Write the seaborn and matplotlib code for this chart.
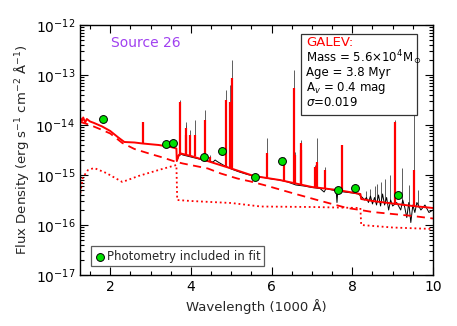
import numpy as np
import pandas as pd
import matplotlib
matplotlib.use("Agg")
import matplotlib.pyplot as plt
import matplotlib.ticker as mticker
from matplotlib.patches import Rectangle
import seaborn as sns

# values, wavelength in 1000 A, flux as log10(erg/s/cm2/A)
model_w = [1.26, 1.30, 1.33, 1.38, 1.42, 1.50, 1.60, 1.80, 2.00, 2.20, 2.35, 2.60, 2.80,
           3.20, 3.50, 3.64, 3.65, 3.70, 3.75, 4.00, 4.33, 4.80, 5.00, 5.56, 5.80, 6.20,
           6.60, 7.00, 7.63, 8.00, 8.20, 8.22, 8.50, 9.00, 9.50, 10.00]
model_f = [-13.86, -13.92, -13.85, -13.95, -13.88, -13.93, -13.96, -14.03, -14.12, -14.25,
           -14.34, -14.35, -14.37, -14.40, -14.44, -14.47, -14.72, -14.60, -14.57, -14.62,
           -14.70, -14.82, -14.87, -15.02, -15.05, -15.10, -15.17, -15.24, -15.30, -15.35,
           -15.38, -15.48, -15.52, -15.57, -15.62, -15.66]

stellar_w = [1.26, 1.50, 1.80, 2.00, 2.30, 2.60, 3.00, 3.30, 3.60, 3.80, 4.42, 4.74, 5.15,
             5.48, 5.90, 6.55, 7.13, 7.87, 8.20, 8.50, 9.00, 9.50, 10.00]
stellar_f = [-13.94, -14.00, -14.10, -14.17, -14.36, -14.48, -14.58, -14.65, -14.73, -14.77,
             -14.87, -14.97, -15.07, -15.13, -15.22, -15.37, -15.50, -15.66, -15.70, -15.74,
             -15.78, -15.82, -15.87]

nebular_w = [1.26, 1.32, 1.45, 1.60, 1.90, 2.30, 2.70, 3.20, 3.64, 3.66, 4.00, 5.00, 5.73,
             7.00, 8.20, 8.22, 9.00, 10.00]
nebular_f = [-15.36, -15.05, -14.90, -14.86, -14.96, -15.14, -15.02, -14.90, -14.80, -15.50,
             -15.52, -15.56, -15.63, -15.64, -15.66, -16.00, -16.05, -16.08]

obs_w = [3.65, 3.70, 3.75, 3.80, 3.90, 4.00, 4.20, 4.40, 4.55, 4.60, 4.65, 4.80, 5.00, 5.20,
         5.40, 5.60, 5.80, 6.00, 6.20, 6.40, 6.60, 6.80, 7.00, 7.20, 7.30, 7.35, 7.50, 7.60,
         7.62, 7.64, 7.80, 8.00, 8.15, 8.25, 8.30, 8.35, 8.40, 8.45, 8.50, 8.55, 8.60, 8.65,
         8.70, 8.75, 8.80, 8.85, 8.90, 8.95, 9.00, 9.10, 9.20, 9.25, 9.30, 9.35, 9.40, 9.45,
         9.50, 9.55, 9.60, 9.70, 9.80, 9.90, 10.00]
obs_f = [-14.72, -14.62, -14.58, -14.60, -14.62, -14.64, -14.68, -14.72, -14.74, -14.70,
         -14.73, -14.80, -14.88, -14.94, -14.99, -15.03, -15.05, -15.08, -15.10, -15.14,
         -15.20, -15.22, -15.25, -15.27, -15.34, -15.27, -15.30, -15.32, -15.55, -15.32,
         -15.34, -15.36, -15.38, -15.45, -15.50, -15.45, -15.55, -15.42, -15.58, -15.45,
         -15.60, -15.40, -15.62, -15.38, -15.60, -15.45, -15.70, -15.50, -15.62, -15.55,
         -15.70, -15.50, -15.65, -15.85, -15.55, -15.95, -15.60, -15.75, -15.55, -15.70,
         -15.60, -15.75, -15.70]

# emission lines: position, continuum under line, model peak, observed peak
line_w = [2.800, 3.727, 3.869, 3.889, 3.970, 4.102, 4.340, 4.471, 4.861, 4.959, 5.007,
          5.876, 6.300, 6.563, 6.584, 6.717, 6.731, 7.065, 7.136, 7.320, 7.751, 9.069, 9.532]
line_base = [-14.37, -14.60, -14.58, -14.58, -14.60, -14.63, -14.70, -14.73, -14.83, -14.86,
             -14.87, -15.05, -15.12, -15.17, -15.17, -15.19, -15.19, -15.24, -15.25, -15.27,
             -15.33, -15.57, -15.62]
line_model = [-13.94, -13.54, -14.06, -14.20, -14.20, -14.20, -13.90, -14.65, -13.50, -13.55,
              -13.06, -14.56, -14.70, -13.26, -14.60, -14.36, -14.50, -14.85, -14.75, -14.90,
              -14.40, -13.94, -14.90]
line_obs = [np.nan, -13.50, -13.95, -14.00, -14.10, -13.90, -13.70, -14.60, -13.30, -13.20,
            -12.70, -14.26, -14.65, -12.90, -14.55, -14.30, -14.45, -14.80, -14.26, -14.85,
            -14.40, -13.90, -13.50]

# Paschen lines only visible in the observed spectrum
pa_w = [8.34, 8.45, 8.55, 8.62, 8.70, 8.82, 8.94, 9.23, 9.40, 9.62]
pa_base = [-15.48, -15.50, -15.52, -15.53, -15.54, -15.55, -15.56, -15.59, -15.60, -15.63]
pa_obs = [-15.32, -15.28, -15.22, -15.18, -15.14, -15.08, -15.00, -14.86, -15.20, -15.30]

phot_w = [1.83, 3.38, 3.56, 4.33, 4.78, 5.59, 6.25, 7.65, 8.07, 9.14]
phot_f = [-13.89, -14.38, -14.37, -14.65, -14.52, -15.04, -14.73, -15.31, -15.27, -15.40]

y_ticks = [1e-17, 1e-16, 1e-15, 1e-14, 1e-13, 1e-12]

model = pd.DataFrame({"w": model_w, "flux": np.power(10.0, model_f)})
stellar = pd.DataFrame({"w": stellar_w, "flux": np.power(10.0, stellar_f)})
nebular = pd.DataFrame({"w": nebular_w, "flux": np.power(10.0, nebular_f)})
obs = pd.DataFrame({"w": obs_w, "flux": np.power(10.0, obs_f)})
phot = pd.DataFrame({"w": phot_w, "flux": np.power(10.0, phot_f)})

sns.set_style("ticks")
plt.rcParams["font.family"] = ["DejaVu Sans"]
plt.rcParams["font.size"] = 9

fig = plt.figure(figsize=(4.57, 3.26), dpi=100)
ax = fig.add_axes([0.175, 0.1564, 0.7725, 0.767])
red = "#FF0000"

# observed spectrum (black) under the model
ax.vlines(line_w, np.power(10.0, line_base), np.power(10.0, line_obs), color="#444444", lw=0.6)
ax.vlines(pa_w, np.power(10.0, pa_base), np.power(10.0, pa_obs), color="#444444", lw=0.6)
sns.lineplot(data=obs, x="w", y="flux", ax=ax, color="black", lw=0.7, sort=False, estimator=None)

sns.lineplot(data=nebular, x="w", y="flux", ax=ax, color=red, lw=1.3, linestyle=(0, (1, 1.6)),
             sort=False, estimator=None)
sns.lineplot(data=stellar, x="w", y="flux", ax=ax, color=red, lw=1.3, linestyle=(0, (4.5, 3)),
             sort=False, estimator=None)
sns.lineplot(data=model, x="w", y="flux", ax=ax, color=red, lw=1.4, sort=False, estimator=None)
ax.vlines(line_w, np.power(10.0, line_base), np.power(10.0, line_model), color=red, lw=1.6)

sns.scatterplot(data=phot, x="w", y="flux", ax=ax, color="#00E000", edgecolor="black",
                linewidth=0.7, s=32, zorder=5, label="Photometry included in fit")

ax.set_yscale("log")
ax.set_xlim(1.25, 10)
ax.set_ylim(1e-17, 1e-12)
ax.xaxis.set_major_locator(mticker.FixedLocator([2, 4, 6, 8, 10]))
ax.xaxis.set_minor_locator(mticker.MultipleLocator(0.5))
ax.yaxis.set_major_locator(mticker.FixedLocator(y_ticks))
ax.yaxis.set_major_formatter(mticker.LogFormatterSciNotation())
ax.yaxis.set_minor_locator(mticker.LogLocator(base=10, subs=np.arange(2, 10), numticks=20))
ax.yaxis.set_minor_formatter(mticker.NullFormatter())
ax.tick_params(which="both", direction="in", top=True, right=True, labelsize=10, colors="black")
ax.tick_params(which="major", length=6, width=0.8)
ax.tick_params(which="minor", length=3, width=0.8)
for sp in ax.spines.values():
    sp.set_linewidth(1.0)
    sp.set_color("black")

ax.set_xlabel("Wavelength (1000 Å)", fontsize=9.5)
ax.set_ylabel("Flux Density (erg s$^{-1}$ cm$^{-2}$ Å$^{-1}$)", fontsize=9.5, labelpad=3)

ax.text(0.187, 0.928, "Source 26", transform=ax.transAxes, color="#A040F0",
        fontsize=10, ha="center", va="center")

ax.add_patch(Rectangle((0.626, 0.64), 0.329, 0.324, transform=ax.transAxes,
                       facecolor="white", edgecolor="#333333", lw=0.9, zorder=6))
info = [("GALEV:", red), ("Mass = 5.6×10$^4$M$_\\odot$", "black"), ("Age = 3.8 Myr", "black"),
        ("A$_v$ = 0.4 mag", "black"), ("$\\sigma$=0.019", "black")]
for i, (txt, col) in enumerate(info):
    ax.text(0.64, 0.928 - i * 0.06, txt, transform=ax.transAxes, color=col,
            fontsize=9.5 if i == 0 else 8.5, ha="left", va="center", zorder=7)

leg = ax.legend(loc="lower left", bbox_to_anchor=(0.03, 0.035), fontsize=8.5, frameon=True,
                fancybox=False, handletextpad=0.1, borderpad=0.3, handlelength=1.0,
                borderaxespad=0)
leg.get_frame().set_edgecolor("#333333")
leg.get_frame().set_linewidth(0.9)

fig.savefig("out.png", dpi=100)
